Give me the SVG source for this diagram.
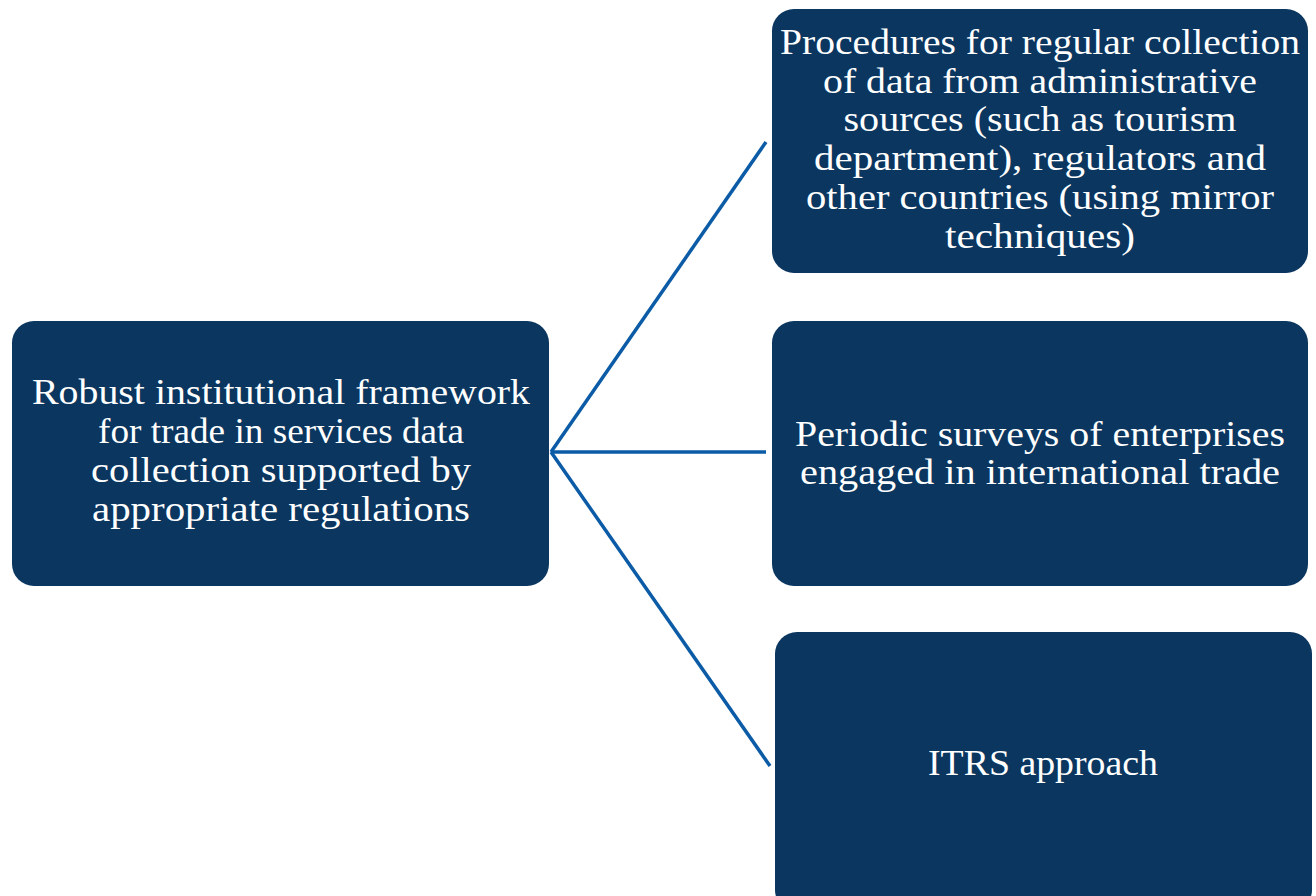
<svg xmlns="http://www.w3.org/2000/svg" width="1316" height="896" viewBox="0 0 1316 896">
<style>
.box{fill:#0a365f;}
.t{font-family:"Liberation Serif","DejaVu Serif",serif;font-size:35px;fill:#ffffff;text-anchor:middle;}
.c{stroke:#0b5ba6;stroke-width:3.5;fill:none;}
</style>
<rect width="1316" height="896" fill="#ffffff"/>
<g id="connectors">
<line class="c" x1="551" y1="452" x2="766" y2="142"/>
<line class="c" x1="551" y1="452" x2="766" y2="452"/>
<line class="c" x1="551" y1="452" x2="770" y2="766"/>
</g>
<g id="root">
<rect class="box" x="12" y="321" width="537" height="265" rx="22"/>
<text class="t" x="281" y="404" textLength="498" lengthAdjust="spacingAndGlyphs">Robust institutional framework</text>
<text class="t" x="281" y="443" textLength="366" lengthAdjust="spacingAndGlyphs">for trade in services data</text>
<text class="t" x="281" y="482" textLength="380" lengthAdjust="spacingAndGlyphs">collection supported by</text>
<text class="t" x="281" y="521" textLength="378" lengthAdjust="spacingAndGlyphs">appropriate regulations</text>
</g>
<g id="procedures">
<rect class="box" x="772" y="9" width="536" height="264" rx="22"/>
<text class="t" x="1040" y="54" textLength="520" lengthAdjust="spacingAndGlyphs">Procedures for regular collection</text>
<text class="t" x="1040" y="93" textLength="434" lengthAdjust="spacingAndGlyphs">of data from administrative</text>
<text class="t" x="1040" y="131" textLength="393" lengthAdjust="spacingAndGlyphs">sources (such as tourism</text>
<text class="t" x="1040" y="170" textLength="452" lengthAdjust="spacingAndGlyphs">department), regulators and</text>
<text class="t" x="1040" y="209" textLength="468" lengthAdjust="spacingAndGlyphs">other countries (using mirror</text>
<text class="t" x="1040" y="248" textLength="190" lengthAdjust="spacingAndGlyphs">techniques)</text>
</g>
<g id="surveys">
<rect class="box" x="772" y="321" width="536" height="265" rx="22"/>
<text class="t" x="1040" y="446" textLength="490" lengthAdjust="spacingAndGlyphs">Periodic surveys of enterprises</text>
<text class="t" x="1040" y="484" textLength="480" lengthAdjust="spacingAndGlyphs">engaged in international trade</text>
</g>
<g id="itrs">
<rect class="box" x="775" y="632" width="537" height="280" rx="22"/>
<text class="t" x="1043" y="775" textLength="230" lengthAdjust="spacingAndGlyphs">ITRS approach</text>
</g>
</svg>
